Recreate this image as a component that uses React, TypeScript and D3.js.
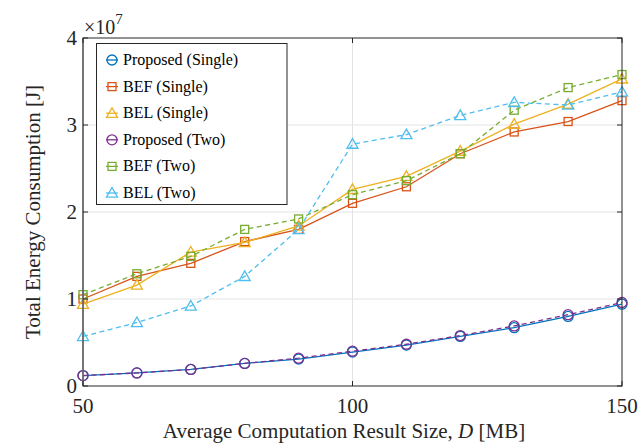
import React from "react";
import * as d3 from "d3";

const xValues = [50, 60, 70, 80, 90, 100, 110, 120, 130, 140, 150];
const proposedSingle = [0.12, 0.15, 0.19, 0.26, 0.31, 0.39, 0.47, 0.57, 0.67, 0.80, 0.94];
const befSingle = [1.0, 1.26, 1.41, 1.66, 1.80, 2.10, 2.29, 2.67, 2.92, 3.04, 3.28];
const belSingle = [0.94, 1.16, 1.54, 1.65, 1.84, 2.26, 2.41, 2.70, 3.01, 3.24, 3.53];
const proposedTwo = [0.12, 0.15, 0.19, 0.26, 0.32, 0.40, 0.48, 0.58, 0.69, 0.82, 0.96];
const befTwo = [1.05, 1.29, 1.49, 1.80, 1.92, 2.20, 2.36, 2.67, 3.17, 3.43, 3.58];
const belTwo = [0.57, 0.73, 0.92, 1.26, 1.80, 2.78, 2.89, 3.11, 3.26, 3.23, 3.38];

const seriesNames = ["Proposed (Single)", "BEF (Single)", "BEL (Single)", "Proposed (Two)", "BEF (Two)", "BEL (Two)"];
const seriesColors = ["#0072BD", "#D95319", "#EDB120", "#7E2F8E", "#77AC30", "#4DBEEE"];
const seriesMarkers = ["circle", "square", "triangle", "circle", "square", "triangle"];
const seriesDashed = [false, false, false, true, true, true];
const seriesData = [proposedSingle, befSingle, belSingle, proposedTwo, befTwo, belTwo];

const xTicks = [50, 100, 150];
const yTicks = [0, 1, 2, 3, 4];

const FONT = "'Liberation Serif', 'Times New Roman', serif";

function Marker({ type, x, y, color }: { type: string; x: number; y: number; color: string }) {
  if (type === "circle") return <circle cx={x} cy={y} r={5} fill="none" stroke={color} strokeWidth={1.3} />;
  if (type === "square") return <rect x={x - 4} y={y - 4} width={8} height={8} fill="none" stroke={color} strokeWidth={1.3} />;
  const s = 5.5;
  return (
    <path
      d={`M${x},${y - s} L${x + s},${y + s * 0.75} L${x - s},${y + s * 0.75} Z`}
      fill="none"
      stroke={color}
      strokeWidth={1.3}
    />
  );
}

export default function App() {
  const W = 642, H = 445;
  const left = 83, right = 622, top = 38, bottom = 386;
  const x = d3.scaleLinear().domain([50, 150]).range([left, right]);
  const y = d3.scaleLinear().domain([0, 4]).range([bottom, top]);
  const line = d3.line<number>().x((_, i) => x(xValues[i])).y((d) => y(d));

  return (
    <svg width={W} height={H} style={{ position: "absolute", left: 0, top: 0, background: "#fff" }}>
      <rect x={0} y={0} width={W} height={H} fill="#fff" />
      {/* grid */}
      {xTicks.slice(1, -1).map((t) => (
        <line key={"gx" + t} x1={x(t)} x2={x(t)} y1={top} y2={bottom} stroke="#e3e3e3" strokeWidth={1} />
      ))}
      {yTicks.slice(1, -1).map((t) => (
        <line key={"gy" + t} x1={left} x2={right} y1={y(t)} y2={y(t)} stroke="#e3e3e3" strokeWidth={1} />
      ))}
      {/* series */}
      {seriesData.map((d, si) => (
        <g key={"s" + si}>
          <path
            d={line(d) || ""}
            fill="none"
            stroke={seriesColors[si]}
            strokeWidth={1.3}
            strokeDasharray={seriesDashed[si] ? "5,3.5" : undefined}
          />
          {d.map((v, i) => (
            <Marker key={i} type={seriesMarkers[si]} x={x(xValues[i])} y={y(v)} color={seriesColors[si]} />
          ))}
        </g>
      ))}
      {/* axes box */}
      <rect x={left} y={top} width={right - left} height={bottom - top} fill="none" stroke="#262626" strokeWidth={1} />
      <line x1={left} x2={left} y1={top} y2={bottom} stroke="#6e6e6e" strokeWidth={1.6} />
      {xTicks.map((t) => (
        <g key={"xt" + t}>
          <line x1={x(t)} x2={x(t)} y1={bottom} y2={bottom - 5} stroke="#262626" />
          <line x1={x(t)} x2={x(t)} y1={top} y2={top + 5} stroke="#262626" />
          <text x={x(t)} y={413} textAnchor="middle" fontFamily={FONT} fontSize={21} fill="#262626">
            {t}
          </text>
        </g>
      ))}
      {yTicks.map((t) => (
        <g key={"yt" + t}>
          <line x1={left} x2={left + 5} y1={y(t)} y2={y(t)} stroke="#262626" />
          <line x1={right} x2={right - 5} y1={y(t)} y2={y(t)} stroke="#262626" />
          <text x={77} y={y(t) + 7} textAnchor="end" fontFamily={FONT} fontSize={21} fill="#262626">
            {t}
          </text>
        </g>
      ))}
      {/* exponent */}
      <text x={84} y={34} fontFamily={FONT} fontSize={20} fill="#262626">
        ×10<tspan fontSize={15} dy={-10}>7</tspan>
      </text>
      {/* axis labels */}
      <text x={344} y={438} textAnchor="middle" fontFamily={FONT} fontSize={21} fill="#262626">
        Average Computation Result Size, <tspan fontStyle="italic">D</tspan> [MB]
      </text>
      <text
        transform={`translate(40,212) rotate(-90)`}
        textAnchor="middle"
        fontFamily={FONT}
        fontSize={21}
        fill="#262626"
      >
        Total Energy Consumption [J]
      </text>
      {/* legend */}
      <rect x={96.5} y={43.5} width={190.5} height={161} fill="#fff" stroke="#262626" strokeWidth={1} />
      {seriesNames.map((n, i) => {
        const ly = 60 + i * 26.6;
        return (
          <g key={"lg" + i}>
            <line x1={106} x2={118} y1={ly} y2={ly} stroke={seriesColors[i]} strokeWidth={1.3} />
            <Marker type={seriesMarkers[i]} x={112} y={ly} color={seriesColors[i]} />
            <text x={123} y={ly + 5} fontFamily={FONT} fontSize={16} fill="#000">
              {n}
            </text>
          </g>
        );
      })}
    </svg>
  );
}
